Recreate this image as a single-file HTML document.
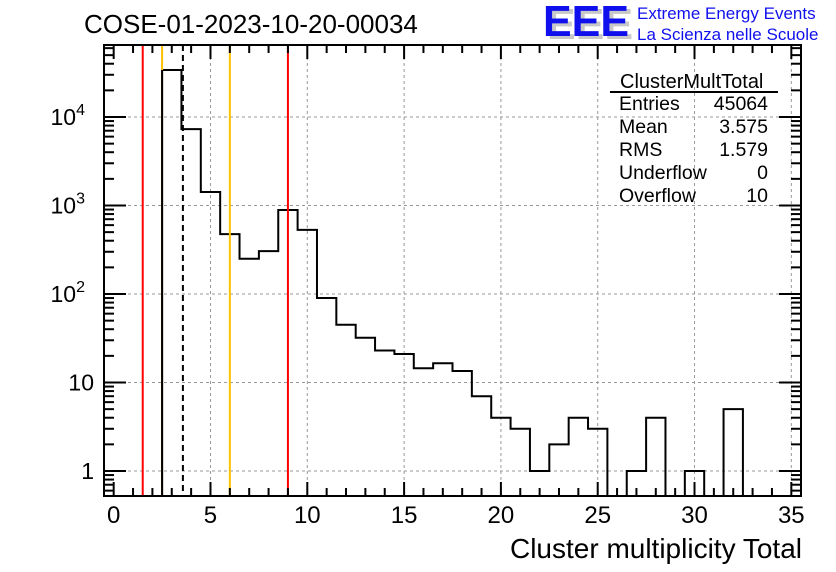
<!DOCTYPE html>
<html><head><meta charset="utf-8"><style>
body{margin:0;background:#fff;}
svg{display:block;font-family:"Liberation Sans",Arial,sans-serif;}
</style></head><body>
<svg id="c" width="836" height="572" xmlns="http://www.w3.org/2000/svg">
<rect width="836" height="572" fill="#fff"/>
<text x="84" y="33" font-size="26">COSE-01-2023-10-20-00034</text>
<g>
<text x="547" y="39" font-size="44" font-weight="bold" fill="#c8c8c8" textLength="86" lengthAdjust="spacingAndGlyphs">EEE</text>
<text x="543" y="36" font-size="44" font-weight="bold" fill="#1010ee" textLength="86" lengthAdjust="spacingAndGlyphs">EEE</text>
<text x="637" y="19" font-size="17" fill="#1010ee">Extreme Energy Events</text>
<text x="637" y="40" font-size="17" fill="#1010ee">La Scienza nelle Scuole</text>
</g>
<g id="grid"></g>
<g id="hist"></g>
<g id="vlines"></g>
<g id="axes"></g>
<g font-size="19.5">
<text x="620" y="88" font-size="20">ClusterMultTotal</text>
<line x1="610" y1="92" x2="778" y2="92" stroke="#000" stroke-width="2"/>
<text x="619" y="110">Entries</text><text x="768" y="110" text-anchor="end">45064</text>
<text x="619" y="133">Mean</text><text x="768" y="133" text-anchor="end">3.575</text>
<text x="619" y="156">RMS</text><text x="768" y="156" text-anchor="end">1.579</text>
<text x="619" y="179">Underflow</text><text x="768" y="179" text-anchor="end">0</text>
<text x="619" y="202">Overflow</text><text x="768" y="202" text-anchor="end">10</text>
</g>
<text x="802" y="558" font-size="28" text-anchor="end">Cluster multiplicity Total</text>
</svg>
<script>
const binCenters=[0,1,2,3,4,5,6,7,8,9,10,11,12,13,14,15,16,17,18,19,20,21,22,23,24,25,26,27,28,29,30,31,32,33,34,35];
const counts=[0,0,0,34000,7300,1420,475,250,305,890,530,90,45,32,23,21,14.5,16.5,13.5,7,4,3,1,2,4,3,0,1,4,0,1,0,5,0,0,0];
const xTicks=[0,5,10,15,20,25,30,35];
const yTicks=[1,10,100,1000,10000];
const yTickLabels=["1","10","10^2","10^3","10^4"];
const markerRed=[1.5,9];
const markerOrange=[2.5,6];
const meanLine=[3.575];
const L=104,R=801,T=45,B=496,XMIN=-0.5,XMAX=35.5;
const yAt1=471,dec=88.5;
const sx=v=>L+(v-XMIN)/(XMAX-XMIN)*(R-L);
const sy=v=>yAt1-Math.log10(v)*dec;
const NS="http://www.w3.org/2000/svg";
function mk(tag,attrs,parent){const e=document.createElementNS(NS,tag);for(const k in attrs)e.setAttribute(k,attrs[k]);parent.appendChild(e);return e;}
const grid=document.getElementById('grid'),hist=document.getElementById('hist'),vl=document.getElementById('vlines'),ax=document.getElementById('axes');
xTicks.forEach(t=>{if(t>0){const g=mk('line',{x1:sx(t),x2:sx(t),y1:T,y2:B,stroke:'#999','stroke-dasharray':'3,3'},grid);

}});
yTicks.forEach(t=>{const g=mk('line',{x1:L,x2:R,y1:sy(t),y2:sy(t),stroke:'#999','stroke-dasharray':'3,3'},grid);

});
const floor=B;
let d='';let prev=null;
binCenters.forEach((c,i)=>{const v=counts[i];const y=v>0?Math.min(sy(v),floor):floor;const x0=sx(c-0.5),x1=sx(c+0.5);
if(prev===null)d+=`M${x0},${y}`;else d+=`L${x0},${prev}L${x0},${y}`;d+=`L${x1},${y}`;prev=y;});
const hp=mk('path',{d:d,fill:'none',stroke:'#000','stroke-width':2},hist);


markerRed.forEach(v=>{const l=mk('line',{x1:sx(v),x2:sx(v),y1:T,y2:B,stroke:'#f00','stroke-width':2},vl);

});
markerOrange.forEach(v=>{const l=mk('line',{x1:sx(v),x2:sx(v),y1:T,y2:B,stroke:'#ffc000','stroke-width':2},vl);

});
mk('path',{d:`M${sx(2.5)},${B}L${sx(2.5)},${sy(counts[3])}`,stroke:'#000','stroke-width':2},vl);
meanLine.forEach(v=>{const l=mk('line',{x1:sx(v),x2:sx(v),y1:T,y2:B,stroke:'#000','stroke-width':2,'stroke-dasharray':'6,4'},vl);

});
const fr=mk('rect',{x:L,y:T,width:R-L,height:B-T,fill:'none',stroke:'#000','stroke-width':2},ax);


for(let t=0;t<=35;t++){const len=t%5===0?14:8;const x=sx(t);
mk('line',{x1:x,x2:x,y1:B,y2:B-len,stroke:'#000','stroke-width':2},ax);
mk('line',{x1:x,x2:x,y1:T,y2:T+len,stroke:'#000','stroke-width':2},ax);}
xTicks.forEach(t=>{const tx=mk('text',{x:sx(t),y:523,'font-size':24,'text-anchor':'middle'},ax);tx.textContent=t;

});
for(let e=-1;e<=4;e++){for(let m=1;m<=9;m++){const v=m*Math.pow(10,e);const y=sy(v);if(y<T||y>B)continue;const len=m===1?22:10;
mk('line',{x1:L,x2:L+len,y1:y,y2:y,stroke:'#000','stroke-width':2},ax);
mk('line',{x1:R,x2:R-len,y1:y,y2:y,stroke:'#000','stroke-width':2},ax);}}
yTicks.forEach((t,i)=>{const lab=yTickLabels[i];const tx=mk('text',{x:94,y:sy(t)+8,'font-size':23,'text-anchor':'end'},ax);
if(lab.includes('^')){const [b,p]=lab.split('^');tx.textContent=b;const ts=mk('tspan',{dy:-10,'font-size':16},tx);ts.textContent=p;tx.setAttribute('x',94-9);}
else tx.textContent=lab;

});
</script>
</body></html>
